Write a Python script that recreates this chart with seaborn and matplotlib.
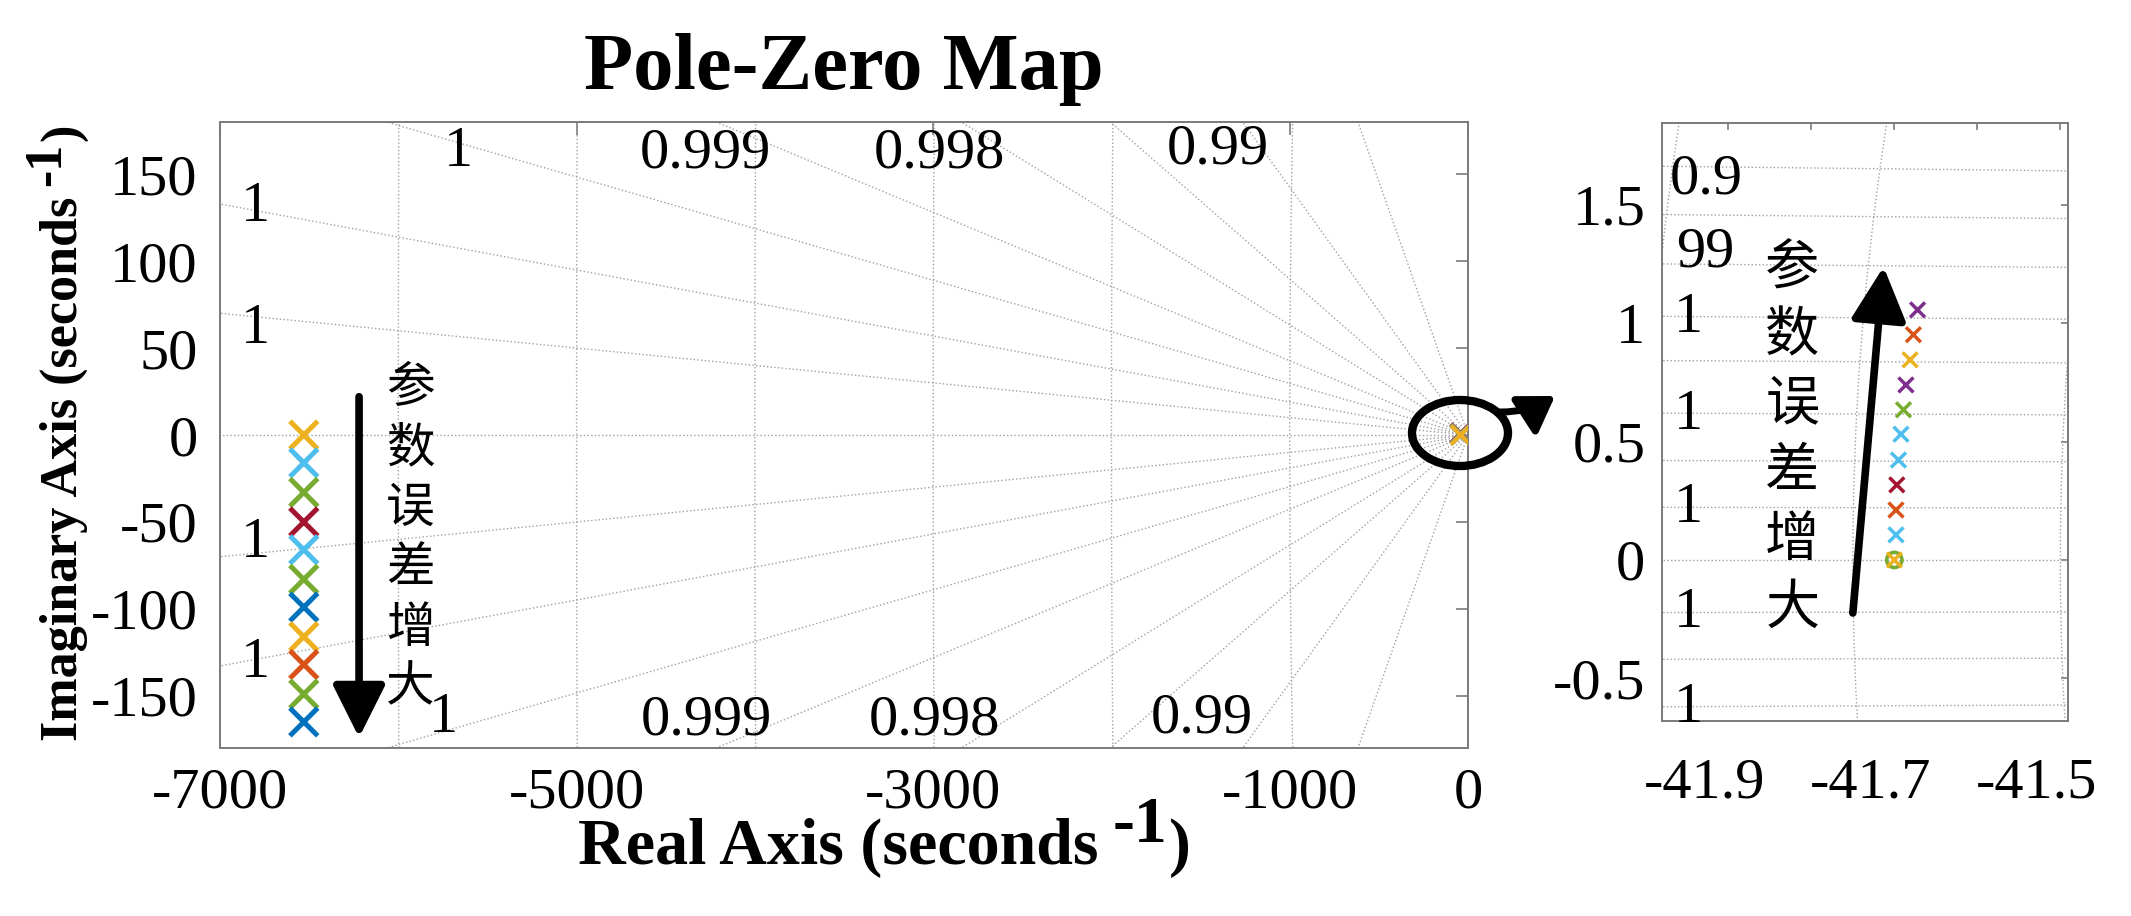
import numpy as np
import pandas as pd
import matplotlib
matplotlib.use("Agg")
import matplotlib.pyplot as plt
import seaborn as sns
from matplotlib.patches import Ellipse, FancyArrowPatch
from matplotlib.transforms import ScaledTranslation

# ---- data ----
# column of markers on the left of the main map
col_re = [-6530] * 11
col_im = [0, -16, -33, -50, -66, -83, -99, -116, -132, -149, -165]
col_colors = ['#EDB120', '#4DBEEE', '#77AC30', '#A2142F', '#4DBEEE', '#77AC30',
              '#0072BD', '#EDB120', '#D95319', '#77AC30', '#0072BD']

# poles in the zoomed view (bottom to top)
pole_re = [-41.700, -41.698, -41.698, -41.697, -41.695, -41.692,
           -41.689, -41.686, -41.681, -41.677, -41.672]
pole_im = [0.0, 0.106, 0.211, 0.317, 0.422, 0.531, 0.634, 0.739, 0.845, 0.951, 1.056]
pole_colors = ['#EDB120', '#4DBEEE', '#D95319', '#A2142F', '#4DBEEE', '#4DBEEE',
               '#77AC30', '#7E2F8E', '#EDB120', '#D95319', '#7E2F8E']

# s-plane grid (damping ratios and natural frequencies)
main_zeta = [0.96, 0.99, 0.996, 0.998, 0.99909, 0.99956, 0.99982, 0.99995]
main_wn = [1000, 2000, 3000, 4000, 5000, 6000, 7000]
zoom_zeta = [0.999986, 0.99995, 0.999891, 0.999799, 0.9997, 0.999557, 0.999397, 0.999217]
zoom_wn = [41.5, 41.75, 42.0]

main_xticks = [-7000, -5000, -3000, -1000, 0]
main_yticks = [150, 100, 50, 0, -50, -100, -150]
zoom_xticks = [-41.9, -41.8, -41.7, -41.6, -41.5]
zoom_xlabels = ['-41.9', '', '-41.7', '', '-41.5']
zoom_yticks = [1.5, 1, 0.5, 0, -0.5]

chars = list('参数误差增大')

# ---- style ----
sns.set_theme(style='white')
plt.rcParams['font.family'] = ['Liberation Serif', 'DejaVu Serif']
plt.rcParams['axes.unicode_minus'] = False
plt.rcParams['text.color'] = 'black'
plt.rcParams['xtick.labelcolor'] = 'black'
plt.rcParams['ytick.labelcolor'] = 'black'
cjk = 'Noto Sans CJK SC'
gray = '#7a7a7a'
grid_kw = dict(color='#a0a0a0', lw=1.0, ls=':', zorder=1)

W, H = 2131, 916
fig = plt.figure(figsize=(W / 100, H / 100), dpi=100)
ax = fig.add_axes([220 / W, 1 - 748 / H, 1248 / W, 626 / H])
ax2 = fig.add_axes([1662 / W, 1 - 721 / H, 406 / W, 598 / H])


def sgrid(a, zetas, wns, rmax):
    xs = np.array([0.0, -rmax])
    for z in zetas:
        t = np.sqrt(1 - z ** 2) / z
        a.plot(xs, -t * xs, **grid_kw)
        a.plot(xs, t * xs, **grid_kw)
    a.plot(xs, 0 * xs, **grid_kw)
    th = np.linspace(np.pi / 2, 3 * np.pi / 2, 600)
    for w in wns:
        a.plot(w * np.cos(th), w * np.sin(th), **grid_kw)


sgrid(ax, main_zeta, main_wn, 9000)
sgrid(ax2, zoom_zeta, zoom_wn, 45)

# ---- markers ----
df_col = pd.DataFrame({'re': col_re, 'im': col_im,
                       'k': [f'c{i}' for i in range(len(col_im))]})
sns.scatterplot(data=df_col, x='re', y='im', hue='k', palette=col_colors,
                marker='x', s=400, linewidth=3.6, legend=False, ax=ax, zorder=5)

df_p = pd.DataFrame({'re': pole_re, 'im': pole_im,
                     'k': [f'p{i}' for i in range(len(pole_im))]})
# main map: same poles, drawn top-down so the lowest sits on top
df_rev = df_p.iloc[::-1]
sns.scatterplot(data=df_rev, x='re', y='im', hue='k', hue_order=list(df_rev['k']),
                palette=pole_colors[::-1], marker='x', s=190, linewidth=3.0,
                legend=False, ax=ax, zorder=5)

ax2.scatter([pole_re[0]], [pole_im[0]], s=120, facecolors='none',
            edgecolors='#77AC30', linewidths=2.6, zorder=4)
sns.scatterplot(data=df_p, x='re', y='im', hue='k', palette=pole_colors,
                marker='x', s=115, linewidth=2.5, legend=False, ax=ax2, zorder=5)

# ---- damping labels ----
lbl_kw = dict(fontsize=42, ha='center', va='center', zorder=3)
for txt, x, y in [('1', -5665, 163), ('1', -6804, 131), ('1', -6804, 61),
                  ('1', -6804, -62), ('1', -6804, -131), ('1', -5749, -163),
                  ('0.999', -4280, 162), ('0.999', -4270, -164),
                  ('0.998', -2962, 162), ('0.998', -2990, -164),
                  ('0.99', -1403, 164), ('0.99', -1494, -163)]:
    ax.text(x, y, txt, **lbl_kw)

for txt, x, y in [('0.9', -41.971, 1.606), ('99', -41.963, 1.30), ('1', -41.966, 1.022),
                  ('1', -41.966, 0.613), ('1', -41.966, 0.22), ('1', -41.966, -0.224),
                  ('1', -41.966, -0.625)]:
    ax2.text(x, y, txt, fontsize=42, ha='left', va='center', zorder=3)

# ---- vertical captions and arrows ----
for i, ch in enumerate(chars):
    ax.text(-5934, 27.0 - 34.5 * i, ch, family=cjk, fontsize=35,
            ha='center', va='center', zorder=6)
    ax2.text(-41.823, 1.234 - 0.2875 * i, ch, family=cjk, fontsize=39,
             ha='center', va='center', zorder=6)

ax.annotate('', xy=(-6220, -174), xytext=(-6220, 22),
            arrowprops=dict(arrowstyle='-|>,head_length=0.8,head_width=0.4',
                            mutation_scale=40, lw=5.5, color='black',
                            shrinkA=0, shrinkB=0, capstyle='round'), zorder=6)
ax2.annotate('', xy=(-41.713, 1.238), xytext=(-41.750, -0.224),
             arrowprops=dict(arrowstyle='-|>,head_length=0.82,head_width=0.42',
                             mutation_scale=40, lw=5.5, color='black',
                             shrinkA=0, shrinkB=0, capstyle='round'), zorder=6)

# ring around the origin cluster with pointer to the zoomed view
fig.patches.append(Ellipse((1460 / W, 1 - 433 / H), 96 / W, 66 / H,
                           transform=fig.transFigure, fill=False,
                           lw=6, ec='black', zorder=10))
fig.patches.append(FancyArrowPatch((1500 / W, 1 - 412 / H), (1555 / W, 1 - 396 / H),
                                   transform=fig.transFigure,
                                   connectionstyle='arc3,rad=0.15',
                                   arrowstyle='-|>,head_length=0.7,head_width=0.45',
                                   mutation_scale=30, lw=5, color='black',
                                   shrinkA=0, shrinkB=0, zorder=10))

# ---- axes ----
ax.set_xlim(-7000, 0)
ax.set_ylim(-180, 180)
ax.set_xticks(main_xticks)
ax.set_xticklabels([str(v) for v in main_xticks])
ax.set_yticks(main_yticks)
ax.set_yticklabels([str(v) for v in main_yticks])
ax.tick_params(axis='both', direction='in', labelsize=42, length=9, width=1.2,
               color=gray, top=True, right=True)
ax.tick_params(axis='y', pad=16)
ax.tick_params(axis='x', pad=14)

ax2.set_xlim(-41.98, -41.4907)
ax2.set_ylim(-0.68, 1.845)
ax2.set_xticks(zoom_xticks)
ax2.set_xticklabels(zoom_xlabels)
ax2.set_yticks(zoom_yticks)
ax2.set_yticklabels(['1.5', '1', '0.5', '0', '-0.5'])
ax2.tick_params(axis='both', direction='in', labelsize=42, length=5, width=1.2,
                color=gray, top=True, right=True)
ax2.tick_params(axis='y', pad=12)
ax2.tick_params(axis='x', pad=26)

for a in (ax, ax2):
    a.set_xlabel('')
    a.set_ylabel('')
    for sp in a.spines.values():
        sp.set_color(gray)
        sp.set_linewidth(1.4)

ax.set_title('Pole-Zero Map', fontsize=58, fontweight='bold', pad=24)

# x label with full-size raised exponent
xb = 1 - 864 / H
t1 = fig.text(578 / W, xb, 'Real Axis (seconds', fontsize=47.5,
              fontweight='bold', ha='left', va='baseline')
t2 = ax.annotate('-1', xy=(1, xb), xycoords=(t1, 'figure fraction'),
                 xytext=(10, 16), textcoords='offset points', fontsize=47.5,
                 fontweight='bold', ha='left', va='baseline')
ax.annotate(')', xy=(1, xb), xycoords=(t2, 'figure fraction'),
            xytext=(1, 0), textcoords='offset points', fontsize=47.5,
            fontweight='bold', ha='left', va='baseline')

# y label, rotated, same trick
yb = 77 / W
u1 = fig.text(yb, 1 - 741 / H, 'Imaginary Axis (seconds', fontsize=37.5,
              fontweight='bold', rotation=90, rotation_mode='anchor',
              ha='left', va='baseline')
u2 = ax.annotate('-1', xy=(yb, 1), xycoords=('figure fraction', u1),
                 xytext=(-12, 8), textcoords='offset points', fontsize=37.5,
                 fontweight='bold', rotation=90, rotation_mode='anchor',
                 ha='left', va='baseline')
ax.annotate(')', xy=(yb, 1), xycoords=('figure fraction', u2),
            xytext=(0, 1), textcoords='offset points', fontsize=37.5,
            fontweight='bold', rotation=90, rotation_mode='anchor',
            ha='left', va='baseline')

# zoomed x tick labels sit a little left of their ticks in the original
shift = ScaledTranslation(-24 / 100, 0, fig.dpi_scale_trans)
for lab in ax2.get_xticklabels():
    lab.set_transform(lab.get_transform() + shift)

fig.savefig('out.png', dpi=100)
